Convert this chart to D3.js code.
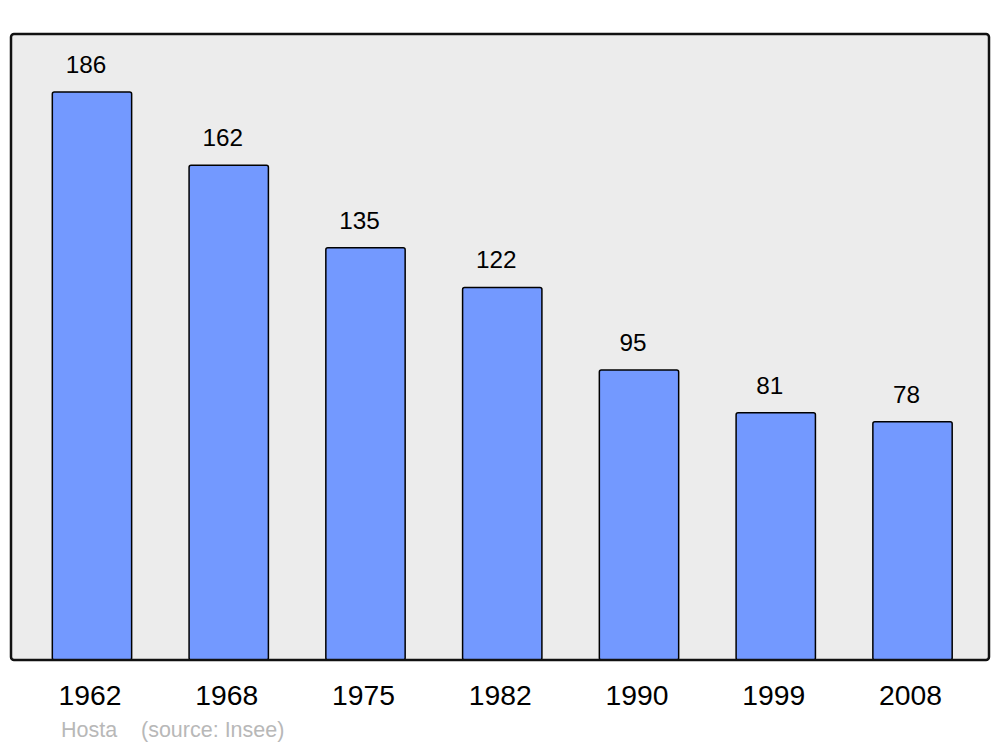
<!DOCTYPE html>
<html>
<head>
<meta charset="utf-8">
<script src="https://cdn.jsdelivr.net/npm/d3@7"></script>
<style>
  body { margin: 0; background: #fff; }
  svg { display: block; font-family: "Liberation Sans", Arial, sans-serif; }
</style>
</head>
<body>
<script>
const years = ['1962', '1968', '1975', '1982', '1990', '1999', '2008'];
const population = [186, 162, 135, 122, 95, 81, 78];
const townName = 'Hosta';
const sourceText = '(source: Insee)';

const w = 1000;
const h = 747;
const plot = { left: 11, right: 989, top: 34, bottom: 660 };

const svg = d3.select('body').
append('svg').
attr('width', w).
attr('height', h);

const xScale = d3.scaleBand().
domain(years).
range([23.6, 980.9]).
paddingInner(0.42).
paddingOuter(0.21);

const yScale = d3.scaleLinear().
domain([0, 205]).
range([plot.bottom, plot.top]);

// plot background
svg.append('rect').
attr('x', plot.left).
attr('y', plot.top).
attr('width', plot.right - plot.left).
attr('height', plot.bottom - plot.top).
attr('rx', 3).
attr('fill', '#ececec');

const data = years.map((y, i) => ({ year: y, value: population[i] }));

svg.selectAll('rect.bar').
data(data).
enter().
append('rect').
attr('class', 'bar').
attr('x', d => xScale(d.year)).
attr('y', d => yScale(d.value)).
attr('width', xScale.bandwidth()).
attr('height', d => yScale(0) - yScale(d.value)).
attr('rx', 2).
attr('fill', '#7399ff').
attr('stroke', '#000').
attr('stroke-width', 1.5);

svg.selectAll('text.value').
data(data).
enter().
append('text').
attr('class', 'value').
attr('x', d => xScale(d.year) + xScale.bandwidth() / 2 - 6).
attr('y', d => yScale(d.value) - 19).
attr('text-anchor', 'middle').
attr('font-size', '24.3px').
attr('fill', '#000').
text(d => d.value);

// plot frame on top
svg.append('rect').
attr('x', plot.left).
attr('y', plot.top).
attr('width', plot.right - plot.left).
attr('height', plot.bottom - plot.top).
attr('rx', 3).
attr('fill', 'none').
attr('stroke', '#111').
attr('stroke-width', 2.5);

const xAxis = d3.axisBottom(xScale).tickSize(0).tickPadding(0);

svg.append('g').
attr('transform', 'translate(-2,' + 705 + ')').
call(xAxis).
call(g => g.select('.domain').remove()).
call(g => g.selectAll('text').
attr('dy', 0).
attr('font-size', '28.3px').
attr('font-family', '"Liberation Sans", Arial, sans-serif').
attr('fill', '#000'));

svg.append('text').
attr('x', 61).
attr('y', 737).
attr('font-size', '21.5px').
attr('fill', '#b8b8b8').
text(townName);

svg.append('text').
attr('x', 141).
attr('y', 737).
attr('font-size', '21.5px').
attr('fill', '#b8b8b8').
text(sourceText);
</script>
</body>
</html>
